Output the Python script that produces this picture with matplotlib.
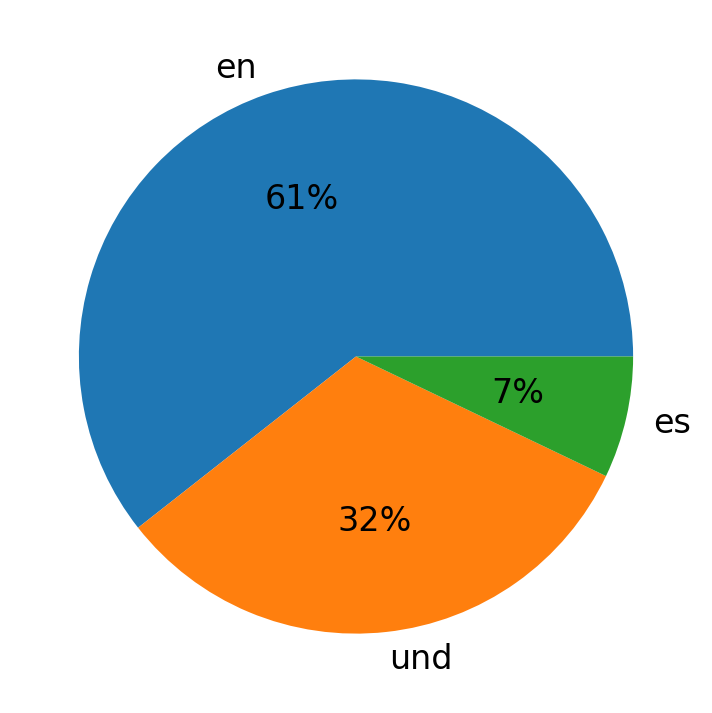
import matplotlib
matplotlib.use("Agg")
import matplotlib.pyplot as plt

labels = ["en", "und", "es"]
values = [60.6, 32.3, 7.1]

fig = plt.figure(figsize=(7.12, 7.13), dpi=100)
ax = fig.add_axes([0.0135, 0.0135, 0.973, 0.973])
ax.pie(values, labels=labels, autopct="%1.0f%%", textprops={"fontsize": 24})
ax.set_aspect("equal")
fig.savefig("out.png", dpi=100)
